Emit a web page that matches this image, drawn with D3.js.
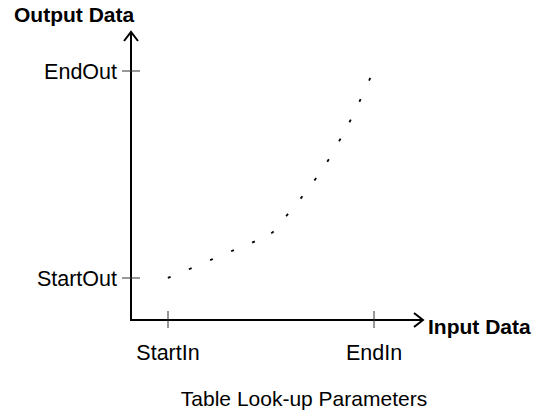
<!DOCTYPE html>
<html>
<head>
<meta charset="utf-8">
<script src="https://cdn.jsdelivr.net/npm/d3@7"></script>
<style>
  html, body { margin: 0; padding: 0; background: #fff; }
  svg { display: block; }
  text { font-family: "Liberation Sans", Arial, sans-serif; fill: #000; }
</style>
</head>
<body>
<svg id="chart" width="539" height="419"></svg>
<script>
// ---- data (normalised: 0 = Start, 1 = End) ----
const inputValues  = [0.006, 0.108, 0.211, 0.313, 0.415, 0.507, 0.578, 0.648, 0.715, 0.777, 0.834, 0.884, 0.932, 0.979];
const outputValues = [0.003, 0.045, 0.089, 0.132, 0.174, 0.220, 0.304, 0.389, 0.477, 0.568, 0.667, 0.759, 0.858, 0.960];
const xTickValues = [0, 1];
const xTickLabels = ["StartIn", "EndIn"];
const yTickValues = [0, 1];
const yTickLabels = ["StartOut", "EndOut"];
const xAxisTitle = "Input Data";
const yAxisTitle = "Output Data";
const chartTitle = "Table Look-up Parameters";

const svg = d3.select("#chart");
const originX = 131, originY = 320;
const x = d3.scaleLinear().domain([0, 1]).range([168, 374]);
const y = d3.scaleLinear().domain([0, 1]).range([278, 71]);
const FS = 21, FT = 21.5;

// axes lines
svg.append("line").attr("x1", originX).attr("y1", originY + 1).attr("x2", originX).attr("y2", 32)
  .attr("stroke", "#000").attr("stroke-width", 2);
svg.append("line").attr("x1", originX - 1).attr("y1", originY).attr("x2", 423).attr("y2", originY)
  .attr("stroke", "#000").attr("stroke-width", 2);
// arrowheads
svg.append("path").attr("d", `M${originX - 7},41 L${originX},32 L${originX + 7},41`)
  .attr("fill", "none").attr("stroke", "#000").attr("stroke-width", 2);
svg.append("path").attr("d", `M414,${originY - 7} L423,${originY} L414,${originY + 7}`)
  .attr("fill", "none").attr("stroke", "#000").attr("stroke-width", 2);

// x ticks
const xt = svg.append("g").selectAll("g").data(xTickValues).join("g");
xt.append("line").attr("x1", d => x(d)).attr("x2", d => x(d)).attr("y1", originY - 9).attr("y2", originY + 8)
  .attr("stroke", "#333").attr("stroke-width", 1);
xt.append("text").attr("x", d => x(d)).attr("y", 360).attr("text-anchor", "middle")
  .attr("font-size", FT).text((d, i) => xTickLabels[i]);

// y ticks
const yt = svg.append("g").selectAll("g").data(yTickValues).join("g");
yt.append("line").attr("x1", originX - 9).attr("x2", originX + 9).attr("y1", d => y(d)).attr("y2", d => y(d))
  .attr("stroke", "#333").attr("stroke-width", 1);
yt.append("text").attr("x", 117).attr("y", d => y(d)).attr("dy", "0.36em").attr("text-anchor", "end")
  .attr("font-size", FT).text((d, i) => yTickLabels[i]);

// axis titles
svg.append("text").attr("x", 14).attr("y", 22).attr("font-size", FS).attr("font-weight", "bold").text(yAxisTitle);
svg.append("text").attr("x", 428).attr("y", 334).attr("font-size", FS).attr("font-weight", "bold").text(xAxisTitle);

// chart title
svg.append("text").attr("x", 304).attr("y", 406).attr("text-anchor", "middle").attr("font-size", FS).text(chartTitle);

// dotted curve: tiny dashes oriented along the curve
const pts = inputValues.map((v, i) => [x(v), y(outputValues[i])]);
svg.append("g").selectAll("line").data(pts).join("line")
  .each(function(p, i) {
    const a = pts[Math.max(0, i - 1)], b = pts[Math.min(pts.length - 1, i + 1)];
    const dx = b[0] - a[0], dy = b[1] - a[1], L = Math.hypot(dx, dy) || 1;
    const h = 1.5;
    d3.select(this)
      .attr("x1", p[0] - dx / L * h).attr("y1", p[1] - dy / L * h)
      .attr("x2", p[0] + dx / L * h).attr("y2", p[1] + dy / L * h);
  })
  .attr("stroke", "#000").attr("stroke-width", 1.8);
</script>
</body>
</html>
